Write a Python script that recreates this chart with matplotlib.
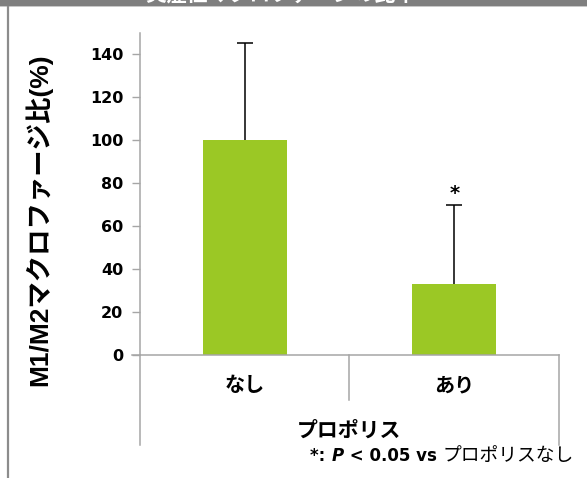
import numpy as np
import matplotlib.pyplot as plt
from matplotlib.patches import Rectangle
from matplotlib.lines import Line2D

# データ
groups = ['なし', 'あり']
ratio_mean = [100, 33]      # M1/M2マクロファージ比 (%)
ratio_err = [45.5, 37]      # 誤差 (上側のみ)
yticks = [0, 20, 40, 60, 80, 100, 120, 140]

jp = ['Noto Sans CJK JP', 'DejaVu Sans']
plt.rcParams['font.family'] = ['DejaVu Sans', 'Noto Sans CJK JP']

fig = plt.figure(figsize=(5.87, 4.78), dpi=100)
ax = fig.add_axes([0.2385, 0.2573, 0.7138, 0.6737])

grey = '#a6a6a6'
x = np.arange(len(groups))
mean = np.array(ratio_mean)
err = np.array(ratio_err)
ax.bar(x, mean, width=0.40, color='#9bc825', zorder=2)
# 上側のみの誤差棒
ax.vlines(x, mean, mean + err, color='black', lw=1.1, zorder=3)
ax.plot(x, mean + err, ls='none', marker='_', ms=11, mew=1.1, color='black', zorder=3)

# 有意差マーク
ax.text(x[1], mean[1] + err[1] + 5, '*', ha='center', va='center',
        fontsize=14, fontweight='bold')

ax.set_xlim(-0.5, 1.5)
ax.set_ylim(0, 150)
ax.set_yticks(yticks)
ax.set_yticklabels([str(v) for v in yticks], fontsize=11.5, fontweight='bold')
ax.set_xticks([])
ax.tick_params(axis='y', direction='out', length=6, width=1, color=grey, pad=6)

for s in ['top', 'right']:
    ax.spines[s].set_visible(False)
for s in ['left', 'bottom']:
    ax.spines[s].set_color(grey)
    ax.spines[s].set_linewidth(1.1)

# カテゴリ区切り線
ax.add_line(Line2D([0, 0], [0, -0.28], transform=ax.transAxes, color=grey, lw=1.1, clip_on=False))
ax.add_line(Line2D([0.5, 0.5], [0, -0.14], transform=ax.transAxes, color=grey, lw=1.1, clip_on=False))
ax.add_line(Line2D([1, 1], [0, -0.28], transform=ax.transAxes, color=grey, lw=1.1, clip_on=False))
ax.add_line(Line2D([-0.019, 0], [0, 0], transform=ax.transAxes, color=grey, lw=1.1, clip_on=False))

for i, g in enumerate(groups):
    ax.text((i + 0.5) / 2, -0.093, g, transform=ax.transAxes, ha='center', va='center',
            fontsize=14.5, fontweight='bold', family=jp)
ax.text(0.5, -0.233, 'プロポリス', transform=ax.transAxes, ha='center', va='center',
        fontsize=15, fontweight='bold', family=jp)

# 縦軸ラベル
fig.text(0.066, 0.54, 'M1/M2マクロファージ比(%)', rotation=90, ha='center', va='center',
         fontsize=19, fontweight='bold', family=['Liberation Sans', 'Noto Sans CJK JP'])

# 注釈
t3 = fig.text(0.977, 0.047, 'プロポリスなし', ha='right', va='center', fontsize=13.5, family=jp)
t2 = ax.annotate(' < 0.05 vs ', xy=(0, 0.5), xycoords=t3, ha='right', va='center',
                 fontsize=12, fontweight='bold')
t1 = ax.annotate('P', xy=(0, 0.5), xycoords=t2, ha='right', va='center',
                 fontsize=12, fontweight='bold', style='italic')
ax.annotate('*: ', xy=(0, 0.5), xycoords=t1, ha='right', va='center',
            fontsize=12, fontweight='bold')

# 枠 (上部タイトルバーと左枠線)
fig.patches.append(Rectangle((0, 0.988), 1, 0.012, transform=fig.transFigure,
                             facecolor='#7f7f7f', edgecolor='none'))
fig.patches.append(Rectangle((0, 0.985), 1, 0.003, transform=fig.transFigure,
                             facecolor='#c8c8c8', edgecolor='none'))
fig.lines.append(Line2D([0.0128, 0.0128], [0, 0.986], transform=fig.transFigure,
                        color='#8c8c8c', lw=1.6))
fig.text(0.478, 0.9995, '炎症性マクロファージの比率', ha='center', va='baseline',
         fontsize=15, fontweight='bold', color='white', family=jp)

fig.savefig('out.png', dpi=100)
